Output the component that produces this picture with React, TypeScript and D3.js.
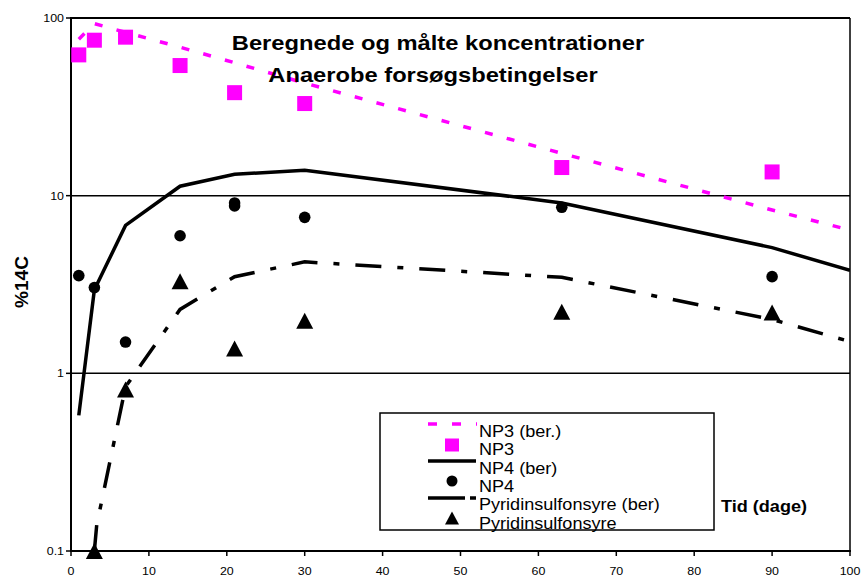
import React from "react";
import * as d3 from "d3";

// Sampling days
const measuredDays = [1, 3, 7, 14, 21, 30, 63, 90];
const np4Days = [1, 3, 7, 14, 21, 21, 30, 63, 90];
const pyrDays = [3, 7, 14, 21, 30, 63, 90];
const calcDays = [1, 3, 7, 14, 21, 30, 63, 90, 100];
const pyrCalcDays = [3, 3.3, 7, 14, 21, 30, 63, 90, 100];

// Calculated concentrations (%14C)
const np3Calc = [76, 93, 83, 68.5, 56, 43, 17.3, 8.3, 6.4];
const np4Calc = [0.58, 2.95, 6.8, 11.3, 13.2, 13.9, 9.1, 5.1, 3.8];
const pyrCalc = [0.1, 0.14, 0.84, 2.29, 3.5, 4.24, 3.47, 2.01, 1.51];

// Measured concentrations (%14C)
const np3Measured = [62, 75, 78, 54, 38, 33, 14.4, 13.6];
const np4Measured = [3.55, 3.04, 1.5, 5.95, 9.1, 8.75, 7.55, 8.6, 3.5];
const pyrMeasured = [0.1, 0.81, 3.3, 1.38, 1.98, 2.22, 2.2];

const xTicks = [0, 10, 20, 30, 40, 50, 60, 70, 80, 90, 100];
const yTicks = [0.1, 1, 10, 100];
const yTickLabels = ["0.1", "1", "10", "100"];

const titleLines = ["Beregnede og målte koncentrationer", "Anaerobe forsøgsbetingelser"];
const legendLabels = [
  "NP3 (ber.)",
  "NP3",
  "NP4 (ber)",
  "NP4",
  "Pyridinsulfonsyre (ber)",
  "Pyridinsulfonsyre",
];

const W = 868;
const H = 577;
const MAGENTA = "#FF00FF";
const FONT = "'Liberation Sans', Arial, Helvetica, sans-serif";
const SX = 1.13;

const x = d3.scaleLinear().domain([0, 100]).range([71, 850]);
const y = d3.scaleLog().domain([0.1, 100]).range([551, 18]);

type TP = {
  x: number;
  y: number;
  size: number;
  anchor?: "start" | "middle" | "end";
  weight?: string | number;
  rotate?: number;
  children: React.ReactNode;
};

function T({ x: tx, y: ty, size, anchor = "start", weight = "normal", rotate = 0, children }: TP) {
  const tr = rotate
    ? `translate(${tx},${ty}) rotate(${rotate})`
    : `translate(${tx},${ty}) scale(${SX},1)`;
  return (
    <text
      transform={tr}
      textAnchor={anchor}
      fontFamily={FONT}
      fontSize={size}
      fontWeight={weight}
      fill="#000"
    >
      {children}
    </text>
  );
}

function pairs(xs: number[], vs: number[]): [number, number][] {
  return xs.map((d, i) => [d, vs[i]]);
}

const line = d3
  .line<[number, number]>()
  .x((d) => x(d[0]))
  .y((d) => y(d[1]));

function triPath(cx: number, cy: number, w: number, h: number) {
  return `M${cx},${cy - h / 2}L${cx + w / 2},${cy + h / 2}L${cx - w / 2},${cy + h / 2}Z`;
}

export default function App() {
  const x0 = x(0);
  const x1 = x(100);
  const yTop = y(100);
  const yBot = y(0.1);

  const legendX = 380;
  const legendY = 413;
  const symX = 452;
  const textX = 479;
  const baselines = [437, 455.3, 473.6, 491.9, 510.2, 528.5];

  return (
    <svg
      width={W}
      height={H}
      viewBox={`0 0 ${W} ${H}`}
      style={{ position: "absolute", left: 0, top: 0, background: "#fff" }}
    >
      <rect x={0} y={0} width={W} height={H} fill="#fff" />
      <defs>
        <clipPath id="plot-clip">
          <rect x={x0} y={yTop - 4} width={x1 - x0} height={yBot - yTop + 4} />
        </clipPath>
      </defs>

      {/* horizontal gridlines */}
      {[1, 10].map((v) => (
        <line key={v} x1={x0} x2={x1} y1={y(v)} y2={y(v)} stroke="#000" strokeWidth={1.5} />
      ))}
      <line x1={x0} x2={x1} y1={yTop} y2={yTop} stroke="#000" strokeWidth={2} />
      <line x1={x1} x2={x1} y1={yTop} y2={yBot} stroke="#000" strokeWidth={1.5} />

      {/* axes */}
      <line x1={x0} x2={x0} y1={yTop - 1} y2={yBot + 1} stroke="#000" strokeWidth={2} />
      <line x1={x0 - 1} x2={x1 + 1} y1={yBot} y2={yBot} stroke="#000" strokeWidth={2} />
      {yTicks.map((v, i) => (
        <g key={v}>
          <line x1={x0 - 5} x2={x0} y1={y(v)} y2={y(v)} stroke="#000" strokeWidth={1.5} />
          <T x={64} y={y(v) + 4} size={11} anchor="end">
            {yTickLabels[i]}
          </T>
        </g>
      ))}
      {xTicks.map((v) => (
        <g key={v}>
          <line x1={x(v)} x2={x(v)} y1={yBot} y2={yBot + 5} stroke="#000" strokeWidth={1.5} />
          <T x={x(v)} y={575} size={11} anchor="middle">
            {v}
          </T>
        </g>
      ))}

      {/* calculated curves */}
      <g clipPath="url(#plot-clip)" fill="none">
        <path
          d={line(pairs(calcDays, np3Calc)) || ""}
          stroke={MAGENTA}
          strokeWidth={3.5}
          strokeDasharray="8 14.5"
        />
        <path d={line(pairs(calcDays, np4Calc)) || ""} stroke="#000" strokeWidth={3.5} />
        <path
          d={line(pairs(pyrCalcDays, pyrCalc)) || ""}
          stroke="#000"
          strokeWidth={3.5}
          strokeDasharray="26 16 6 16"
        />
      </g>

      {/* measured points */}
      {measuredDays.map((d, i) => (
        <rect
          key={"s" + i}
          x={x(d) - 7.5}
          y={y(np3Measured[i]) - 7.5}
          width={15}
          height={15}
          fill={MAGENTA}
        />
      ))}
      {np4Days.map((d, i) => (
        <circle key={"c" + i} cx={x(d)} cy={y(np4Measured[i])} r={5.8} fill="#000" />
      ))}
      {pyrDays.map((d, i) => (
        <path key={"t" + i} d={triPath(x(d), y(pyrMeasured[i]), 17, 16)} fill="#000" />
      ))}

      {/* title */}
      <T x={438} y={50} size={21} anchor="middle" weight="bold">
        {titleLines[0]}
      </T>
      <T x={433} y={82} size={21} anchor="middle" weight="bold">
        {titleLines[1]}
      </T>

      {/* axis titles */}
      <T x={28} y={282} size={19} anchor="middle" weight="bold" rotate={-90}>
        %14C
      </T>
      <T x={721} y={512} size={16} weight="bold">
        Tid (dage)
      </T>

      {/* legend */}
      <rect
        x={legendX}
        y={legendY}
        width={714 - legendX}
        height={530 - legendY}
        fill="#fff"
        stroke="#000"
        strokeWidth={1.5}
      />
      <line
        x1={428}
        x2={477}
        y1={424}
        y2={424}
        stroke={MAGENTA}
        strokeWidth={3.5}
        strokeDasharray="9 15"
      />
      <rect x={symX - 7} y={445 - 6.5} width={14} height={13} fill={MAGENTA} />
      <line x1={428} x2={476} y1={461} y2={461} stroke="#000" strokeWidth={3.5} />
      <circle cx={symX} cy={481} r={5.5} fill="#000" />
      <line x1={428} x2={465} y1={498} y2={498} stroke="#000" strokeWidth={3.5} />
      <line x1={470} x2={476} y1={498} y2={498} stroke="#000" strokeWidth={3.5} />
      <path d={triPath(symX, 518, 14, 13)} fill="#000" />
      {legendLabels.map((lab, i) => (
        <T key={lab} x={textX} y={baselines[i]} size={16}>
          {lab}
        </T>
      ))}
    </svg>
  );
}
